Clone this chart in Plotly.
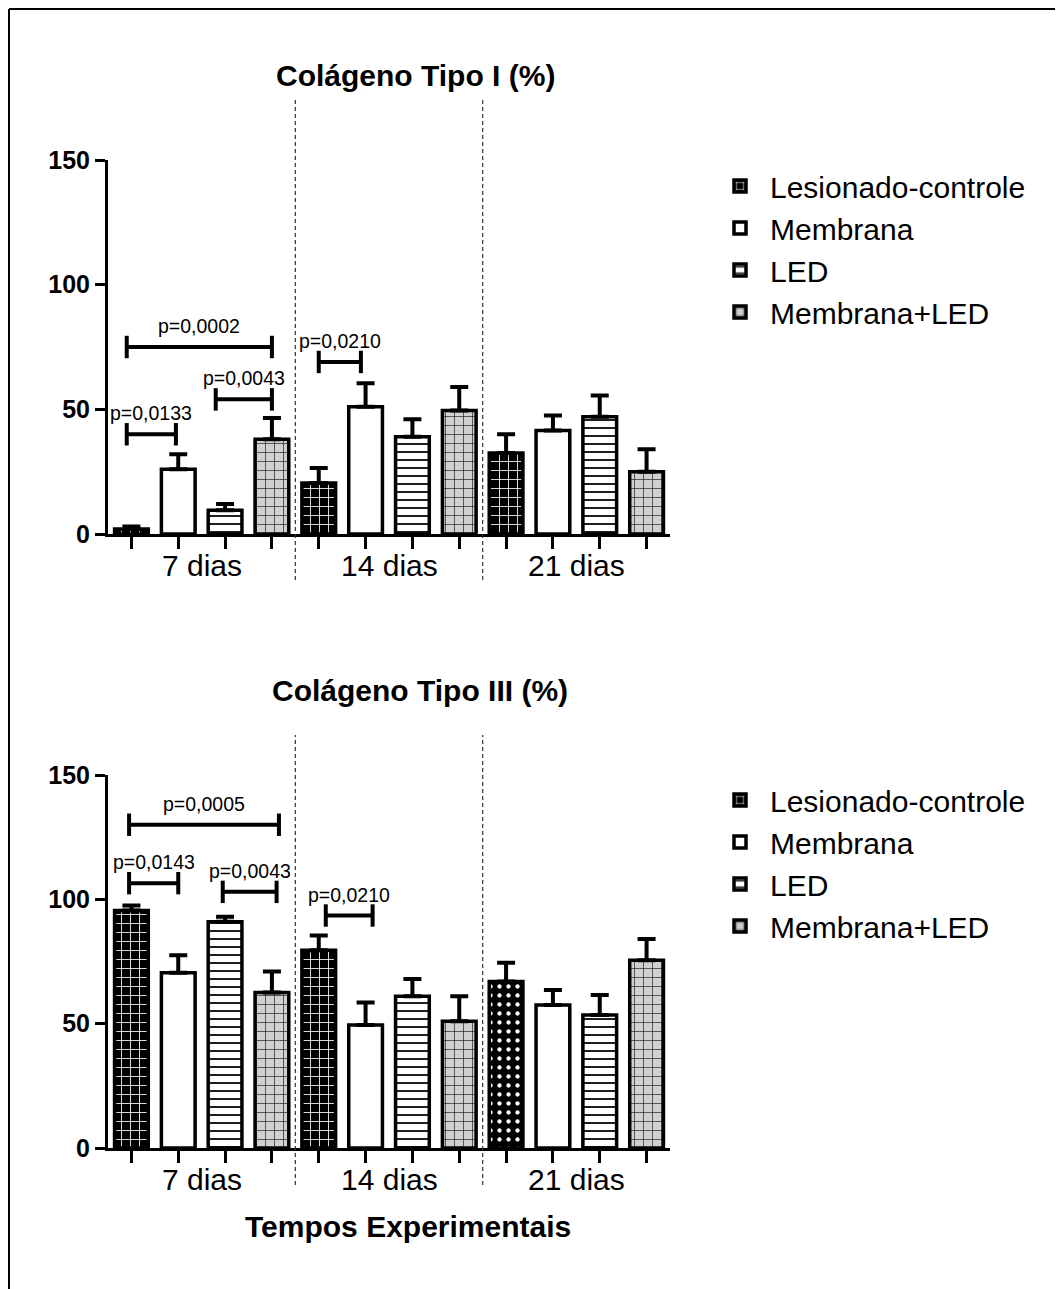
import plotly.graph_objects as go

# ---------------- data ----------------
groups = ["7 dias", "14 dias", "21 dias"]
treatments = ["Lesionado-controle", "Membrana", "LED", "Membrana+LED"]

col1_les = [2, 20.5, 32.5]
col1_mem = [26, 51, 41.5]
col1_led = [9.5, 39, 47]
col1_mled = [38, 49.5, 25]
col1_les_err = [1, 6, 7.5]
col1_mem_err = [6, 9.5, 6]
col1_led_err = [2.5, 7, 8.5]
col1_mled_err = [8.5, 9.5, 9]

col3_les = [95.5, 79.5, 67]
col3_mem = [70.5, 49.5, 57.5]
col3_led = [91, 61, 53.5]
col3_mled = [62.5, 51, 75.5]
col3_les_err = [2, 6, 7.5]
col3_mem_err = [7, 9, 6]
col3_led_err = [2, 7, 8]
col3_mled_err = [8.5, 10, 8.5]

y_ticks = [0, 50, 100, 150]

# significance comparisons: (bar position from, bar position to, height, label)
col1_sig = [(-0.1, 3.0, 75, "p=0,0002"),
            (-0.1, 0.95, 40, "p=0,0133"),
            (1.8, 3.0, 54, "p=0,0043"),
            (4.0, 4.9, 69, "p=0,0210")]
col3_sig = [(-0.05, 3.15, 130, "p=0,0005"),
            (-0.05, 1.0, 106.5, "p=0,0143"),
            (1.95, 3.1, 103, "p=0,0043"),
            (4.15, 5.15, 93.5, "p=0,0210")]

FONT = "Liberation Sans, Arial, sans-serif"
PAGE_W, PAGE_H = 1063, 1289
OFF = 8  # browser body margin
W, H = PAGE_W - OFF, PAGE_H - OFF


def px(x):
    return (x - OFF) / W


def py(y):
    return 1 - (y - OFF) / H


styles = [
    dict(color="black", pattern=dict(shape="+", fgcolor="white", bgcolor="black", size=9, solidity=0.18, fillmode="replace")),
    dict(color="white"),
    dict(color="white", pattern=dict(shape="-", fgcolor="black", bgcolor="white", size=8, solidity=0.22, fillmode="replace")),
    dict(color="#d0d0d0", pattern=dict(shape="+", fgcolor="#222222", bgcolor="#d0d0d0", size=9, solidity=0.15, fillmode="replace")),
]

fig = go.Figure()


def add_panel(means, errs, xa, ya, legend, tag, special=None):
    for t, name in enumerate(treatments):
        xs = [g * len(treatments) + t for g in range(len(groups))]
        st = dict(styles[t])
        if special is not None and t == 0:
            st = dict(color="black", pattern=dict(shape=special, fgcolor="white", bgcolor="black",
                                                  size=9, solidity=0.18, fillmode="replace"))
        fig.add_trace(go.Bar(
            x=xs, y=means[t], name=name, width=0.72,
            xaxis=xa, yaxis=ya, legend=legend, legendgroup=tag + str(t),
            marker=dict(line=dict(color="black", width=3.5), **st),
            error_y=dict(type="data", symmetric=False, array=errs[t], arrayminus=[0] * len(errs[t]),
                         color="black", thickness=4, width=9),
        ))


add_panel([col1_les, col1_mem, col1_led, col1_mled],
          [col1_les_err, col1_mem_err, col1_led_err, col1_mled_err], "x", "y", "legend", "a")
add_panel([col3_les, col3_mem, col3_led, col3_mled],
          [col3_les_err, col3_mem_err, col3_led_err, col3_mled_err], "x2", "y2", "legend2", "b",
          special=["+", "+", "."])

n_bars = len(groups) * len(treatments)
xdom = [px(108), px(670)]
ydom1 = [py(534), py(160)]
ydom2 = [py(1148), py(775)]

xcommon = dict(range=[-0.5, n_bars - 0.5], showline=True, linewidth=3, linecolor="black",
               ticks="outside", ticklen=12, tickwidth=3, tickcolor="black",
               tickvals=list(range(n_bars)), showticklabels=False, showgrid=False,
               zeroline=False, fixedrange=True, automargin=False)
ycommon = dict(range=[0, 150], showline=True, linewidth=3, linecolor="black",
               ticks="outside", ticklen=10, tickwidth=3, tickcolor="black",
               tickvals=y_ticks, showgrid=False, zeroline=False, automargin=False,
               tickfont=dict(family=FONT, size=25, color="black", weight="bold"))

shapes = []
annotations = []

panels = [("x", "y", col1_sig, 534, 160, 97, 580, 565), ("x2", "y2", col3_sig, 1148, 775, 735, 1185, 1179)]
for xa, ya, sig, ybot, ytop, dtop, dbot, ylab in panels:
    span = ybot - ytop
    # dashed separators between groups
    for g in range(1, len(groups)):
        xv = g * len(treatments) - 0.5
        shapes.append(dict(type="line", xref=xa, yref=ya + " domain", x0=xv, x1=xv,
                           y0=(ybot - dbot) / span, y1=(ybot - dtop) / span,
                           line=dict(color="#333333", width=1.2, dash="4px,3px")))
    # group labels
    for g, lab in enumerate(groups):
        annotations.append(dict(text=lab, xref=xa, yref=ya + " domain",
                                x=g * len(treatments) + (len(treatments) - 1) / 2, y=(ybot - ylab) / span,
                                showarrow=False, font=dict(family=FONT, size=30, color="black"),
                                xanchor="center", yanchor="middle"))
    # significance brackets
    for x0, x1, yv, lab in sig:
        ln = dict(color="black", width=4)
        shapes.append(dict(type="line", xref=xa, yref=ya, x0=x0, x1=x1, y0=yv, y1=yv, line=ln))
        for xe in (x0, x1):
            shapes.append(dict(type="line", xref=xa, yref=ya, x0=xe, x1=xe, y0=yv - 4.5, y1=yv + 4.5, line=ln))
        annotations.append(dict(text=lab, xref=xa, yref=ya, x=(x0 + x1) / 2, y=yv, yshift=21,
                                showarrow=False, font=dict(family=FONT, size=19.5, color="black"),
                                xanchor="center", yanchor="middle"))

# titles
for txt, xx, yy in [("Colágeno Tipo I (%)", 415, 75), ("Colágeno Tipo III (%)", 420, 690),
                    ("Tempos Experimentais", 408, 1226)]:
    annotations.append(dict(text="<b>" + txt + "</b>", xref="paper", yref="paper", x=px(xx), y=py(yy),
                            showarrow=False, font=dict(family=FONT, size=30, color="black"),
                            xanchor="center", yanchor="middle"))

# outer frame (left and top)
shapes.append(dict(type="line", xref="paper", yref="paper", x0=px(9), x1=px(9), y0=-0.05, y1=py(9),
                   line=dict(color="black", width=2)))
shapes.append(dict(type="line", xref="paper", yref="paper", x0=px(9), x1=1.05, y0=py(9), y1=py(9),
                   line=dict(color="black", width=2)))

legend_common = dict(font=dict(family=FONT, size=30, color="black"), bgcolor="rgba(0,0,0,0)",
                     xanchor="left", yanchor="top", tracegroupgap=7, itemwidth=50, traceorder="normal")

fig.update_layout(
    width=W, height=H,
    margin=dict(l=0, r=0, t=0, b=0, autoexpand=False),
    paper_bgcolor="white", plot_bgcolor="white",
    barmode="overlay",
    showlegend=True,
    xaxis=dict(domain=xdom, anchor="y", **xcommon),
    yaxis=dict(domain=ydom1, anchor="x", **ycommon),
    xaxis2=dict(domain=xdom, anchor="y2", **xcommon),
    yaxis2=dict(domain=ydom2, anchor="x2", **ycommon),
    legend=dict(x=px(710), y=py(160), **legend_common),
    legend2=dict(x=px(710), y=py(774), **legend_common),
    shapes=shapes,
    annotations=annotations,
    font=dict(family=FONT, color="black"),
)

fig.write_html("out.html")
